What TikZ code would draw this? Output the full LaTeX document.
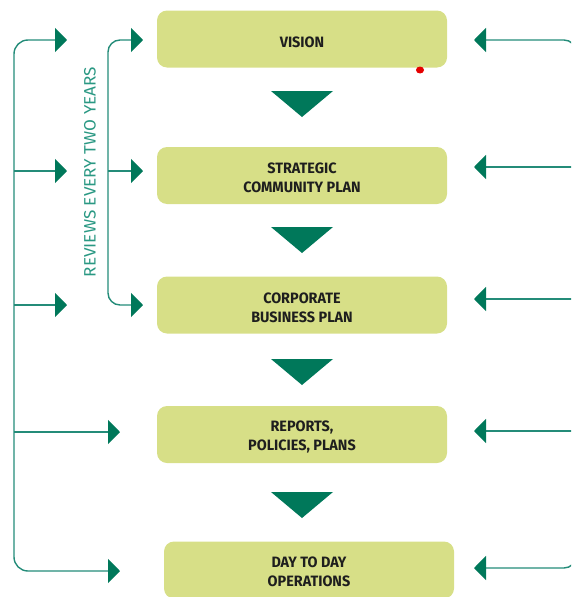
\documentclass[tikz,border=0pt]{standalone}
\usepackage{fontspec}
\newfontfamily\boxfont[FakeStretch=0.96]{Fira Sans}
\newfontfamily\revfont[FakeStretch=1.04]{Fira Sans}
\usetikzlibrary{arrows.meta,calc}
\definecolor{boxfill}{HTML}{D7DF87}
\definecolor{tealdark}{HTML}{00785A}
\definecolor{tealline}{HTML}{248C79}
\definecolor{tealtext}{HTML}{2A9883}
\definecolor{boxtext}{HTML}{1E1E1E}
\tikzset{
  stagebox/.style={fill=boxfill, rounded corners=10pt, minimum width=290pt, minimum height=57pt,
    inner sep=0pt},
  boxlabel/.style={inner sep=0pt, align=center, text=boxtext, font=\boxfont\bfseries\fontsize{15}{19}\selectfont},
  downtri/.style={fill=tealdark, draw=none},
  conn/.style={draw=tealline, line width=1.4pt, -{Triangle[length=12pt,width=24pt,fill=tealdark,color=tealdark]}},
  connboth/.style={draw=tealline, line width=1.4pt, {Triangle[length=12pt,width=24pt,fill=tealdark,color=tealdark]}-{Triangle[length=12pt,width=24pt,fill=tealdark,color=tealdark]}},
}
\begin{document}
\begin{tikzpicture}[x=1pt,y=-1pt]
\useasboundingbox (0,0) rectangle (571,597);
\clip (0,0) rectangle (571,597);
% boxes
\node[stagebox] (vision) at (302,39) {};
\node[stagebox] (scp) at (302,175.5) {};
\node[stagebox] (cbp) at (302,305) {};
\node[stagebox] (rpp) at (302,434.5) {};
\node[stagebox] (ops) at (309,570) {};
\node[boxlabel] (tvision) at ($(vision)+(0,3)$) {VISION};
\node[boxlabel] (tscp) at ($(scp)+(0,2.5)$) {STRATEGIC\\COMMUNITY PLAN};
\node[boxlabel] (tcbp) at ($(cbp)+(0,2.5)$) {CORPORATE\\BUSINESS PLAN};
\node[boxlabel] (trpp) at ($(rpp)+(0,2.5)$) {REPORTS,\\POLICIES, PLANS};
\node[boxlabel] (tops) at ($(ops)+(0,2)$) {DAY TO DAY\\OPERATIONS};
% down triangles
\foreach \ya in {91,227,359,492}{
  \fill[downtri] (271,\ya) -- (333,\ya) -- (302,\ya+26) -- cycle;
}
% red dot
\fill[red!90!black] (420,70) ellipse (4pt and 3.5pt);
% left outer bracket
\coordinate (lo1) at (67,40);
\coordinate (lo2) at (67,171);
\coordinate (lo3) at (67,305);
\coordinate (lo4) at (120,432);
\coordinate (lo5) at (120,571);
\draw[connboth, rounded corners=14pt] (lo1) -- (14,40) -- (14,571) -- (lo5);
\draw[conn] (14,171) -- (lo2);
\draw[conn] (14,305) -- (lo3);
\draw[conn] (14,432) -- (lo4);
% inner bracket
\coordinate (li1) at (143,40);
\coordinate (li2) at (143,171);
\coordinate (li3) at (143,305);
\draw[connboth, rounded corners=12pt] (li1) -- (108,40) -- (108,305) -- (li3);
\draw[conn] (108,171) -- (li2);
\node[rotate=90, text=tealtext, font=\revfont\fontsize{16.5}{16.5}\selectfont, inner sep=0pt] (rev) at (90,172) {REVIEWS EVERY TWO YEARS};
% right bracket
\coordinate (r1) at (474,40);
\coordinate (r2) at (474,167);
\coordinate (r3) at (474,299);
\coordinate (r4) at (474,431);
\coordinate (r5) at (474,568);
\draw[connboth, rounded corners=12pt] (r1) -- (576,40) -- (576,568) -- (r5);
\draw[conn] (576,167) -- (r2);
\draw[conn] (576,299) -- (r3);
\draw[conn] (576,431) -- (r4);
\end{tikzpicture}
\end{document}
